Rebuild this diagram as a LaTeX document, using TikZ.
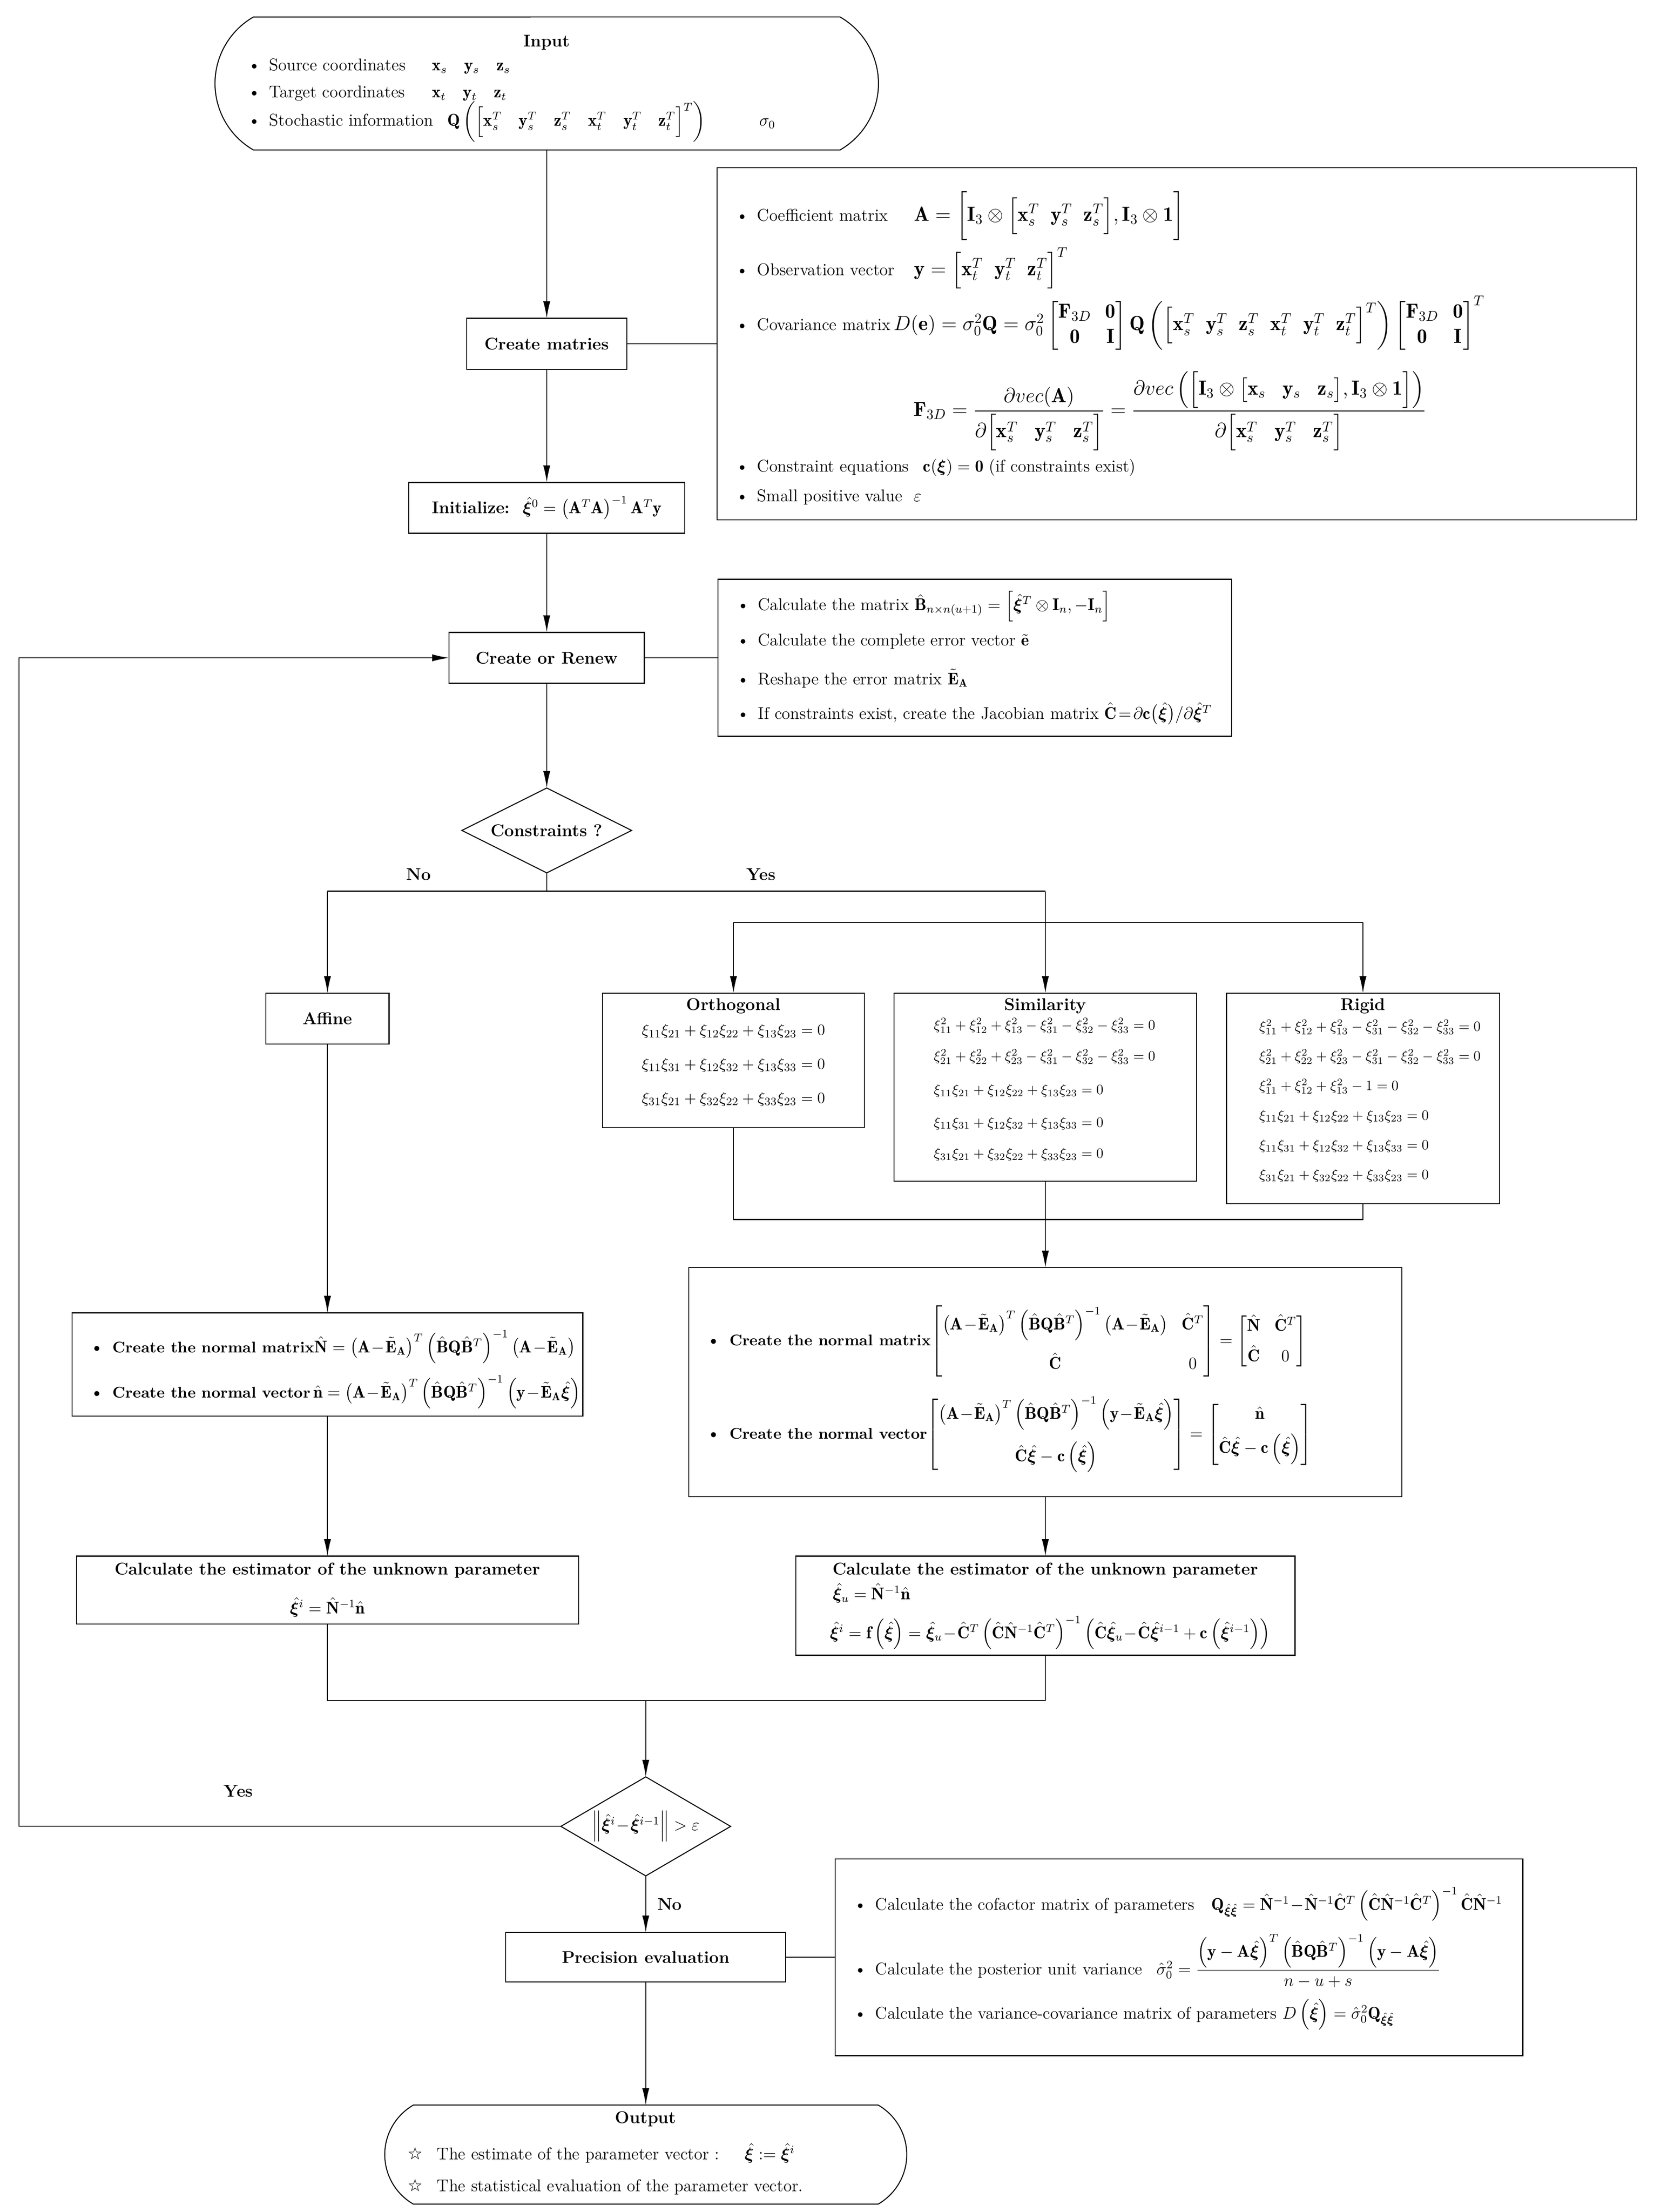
\documentclass[tikz,border=0pt,12pt]{standalone}
\usepackage{amsmath}
\usepackage{bm}
\usepackage{fontspec}
\newfontfamily\dejavustar{DejaVu Sans}
\usetikzlibrary{positioning}
\usetikzlibrary{shapes.geometric}
\usetikzlibrary{shapes.misc}
\usetikzlibrary{arrows.meta}
\newcommand{\itembul}{\textbullet\hspace{6pt}}
\newcommand{\hxi}{\hat{\bm{\xi}}}
\newcommand{\tEA}{\tilde{\mathbf{E}}_{\mathbf{A}}}
\newcommand{\BQBinv}{\left(\hat{\mathbf{B}}\mathbf{Q}\hat{\mathbf{B}}^T\right)^{-1}}
\tikzset{box/.style = {draw, line width=0.7pt, inner sep=2pt, outer sep=0pt, align=center, text centered, font=\bfseries}}
\tikzset{panel/.style = {draw, line width=0.7pt, inner sep=0pt, outer sep=0pt}}
\tikzset{entry/.style = {anchor=west, inner sep=0pt}}
\tikzset{eqn/.style = {inner sep=0pt}}
\tikzset{cond/.style = {draw, diamond, aspect=2, inner sep=0pt, outer sep=0pt, line width=0.7pt}}
\tikzset{terminal/.style = {draw, rounded rectangle, rounded rectangle arc length=120, outer sep=0pt, line width=0.7pt}}
\tikzset{heading/.style = {inner sep=0pt, font=\bfseries}}
\tikzset{arr/.style = {line width=0.7pt, -{Latex[length=12pt,width=5pt]}}}
\tikzset{link/.style = {line width=0.7pt}}

\begin{document}
\begin{tikzpicture}[node distance = 6 mm]
\useasboundingbox (0,0) rectangle (1169pt,-1563.6pt);

%% main column
\node[terminal, minimum width=477pt, minimum height=94pt] (input) at (386.5pt,-59pt) {};
\node[box, below=119pt of input, minimum width=113pt, minimum height=36pt] (creatm) {Create matries};
\node[box, below=80pt of creatm, minimum width=195pt, minimum height=36pt] (init) {Initialize:\ \ $\hat{\bm{\xi}}^0=\left(\mathbf{A}^T\mathbf{A}\right)^{-1}\mathbf{A}^T\mathbf{y}$};
\node[box, below=70pt of init, minimum width=138pt, minimum height=36pt] (renew) {Create or Renew};
\node[cond, below=74pt of renew, minimum width=120pt, minimum height=60pt, font=\bfseries] (cons) {Constraints ?};

%% input text
\node[heading] (intitle) at ([yshift=-18pt]input.north) {Input};
\node[entry] (in1) at ([xshift=-211.5pt,yshift=-35pt]input.north) {\itembul\makebox[115pt][l]{Source coordinates}$\mathbf{x}_s\quad\mathbf{y}_s\quad\mathbf{z}_s$};
\node[entry] (in2) at ([xshift=-211.5pt,yshift=-54pt]input.north) {\itembul\makebox[115pt][l]{Target coordinates}$\mathbf{x}_t\quad\mathbf{y}_t\quad\mathbf{z}_t$};
\node[entry] (in3) at ([xshift=-211.5pt,yshift=-74pt]input.north) {\itembul Stochastic information\hspace{10pt}$\mathbf{Q}\left(\Big[\mathbf{x}_s^T\quad\mathbf{y}_s^T\quad\mathbf{z}_s^T\quad\mathbf{x}_t^T\quad\mathbf{y}_t^T\quad\mathbf{z}_t^T\Big]^T\right)\qquad\quad\sigma_0$};

%% model box
\node[panel, right=64pt of creatm, minimum width=650pt, minimum height=249pt] (coefbox) {};
\node[entry] (coef1) at ([xshift=13pt,yshift=-34pt]coefbox.north west) {\itembul\makebox[111pt][l]{Coefficient matrix}\large$\mathbf{A}=\bigg[\mathbf{I}_3\otimes\Big[\mathbf{x}_s^T\;\;\mathbf{y}_s^T\;\;\mathbf{z}_s^T\Big],\mathbf{I}_3\otimes\mathbf{1}\bigg]$};
\node[entry] (coef2) at ([xshift=13pt,yshift=-71pt]coefbox.north west) {\itembul\makebox[111pt][l]{Observation vector}\large$\mathbf{y}=\Big[\mathbf{x}_t^T\;\;\mathbf{y}_t^T\;\;\mathbf{z}_t^T\Big]^T$};
\node[entry] (coef3) at ([xshift=13pt,yshift=-110pt]coefbox.north west) {\itembul Covariance matrix\,\large$D(\mathbf{e})=\sigma_0^2\mathbf{Q}=\sigma_0^2\begin{bmatrix}\mathbf{F}_{3D}&\mathbf{0}\\\mathbf{0}&\mathbf{I}\end{bmatrix}\mathbf{Q}\left(\Big[\mathbf{x}_s^T\;\;\mathbf{y}_s^T\;\;\mathbf{z}_s^T\;\;\mathbf{x}_t^T\;\;\mathbf{y}_t^T\;\;\mathbf{z}_t^T\Big]^T\right)\begin{bmatrix}\mathbf{F}_{3D}&\mathbf{0}\\\mathbf{0}&\mathbf{I}\end{bmatrix}^T$};
\node[eqn] (coef4) at ([xshift=320pt,yshift=-172pt]coefbox.north west) {\large$\mathbf{F}_{3D}=\dfrac{\partial vec(\mathbf{A})}{\partial\Big[\mathbf{x}_s^T\;\;\;\mathbf{y}_s^T\;\;\;\mathbf{z}_s^T\Big]}=\dfrac{\partial vec\left(\Big[\mathbf{I}_3\otimes\big[\mathbf{x}_s\;\;\;\mathbf{y}_s\;\;\;\mathbf{z}_s\big],\mathbf{I}_3\otimes\mathbf{1}\Big]\right)}{\partial\Big[\mathbf{x}_s^T\;\;\;\mathbf{y}_s^T\;\;\;\mathbf{z}_s^T\Big]}$};
\node[entry] (coef5) at ([xshift=13pt,yshift=-212pt]coefbox.north west) {\itembul Constraint equations\hspace{10pt}$\mathbf{c}(\bm{\xi})=\mathbf{0}$\ (if constraints exist)};
\node[entry] (coef6) at ([xshift=13pt,yshift=-233pt]coefbox.north west) {\itembul Small positive value\hspace{8pt}$\varepsilon$};

%% renew box
\node[panel, right=52pt of renew, minimum width=363pt, minimum height=111pt] (errbox) {};
\node[entry] (err1) at ([xshift=13pt,yshift=-19pt]errbox.north west) {\itembul Calculate the matrix $\hat{\mathbf{B}}_{n\times n(u+1)}=\left[\hat{\bm{\xi}}^T\otimes\mathbf{I}_n,-\mathbf{I}_n\right]$};
\node[entry] (err2) at ([xshift=13pt,yshift=-44pt]errbox.north west) {\itembul Calculate the complete error vector $\tilde{\mathbf{e}}$};
\node[entry] (err3) at ([xshift=13pt,yshift=-70pt]errbox.north west) {\itembul Reshape the error matrix $\tEA$};
\node[entry] (err4) at ([xshift=13pt,yshift=-95pt]errbox.north west) {\itembul If constraints exist, create the Jacobian matrix $\hat{\mathbf{C}}\!=\!\partial\mathbf{c}\big(\hxi\big)/\partial\hxi^T$};

%% branches
\coordinate[below=13pt of cons] (split);
\coordinate[left=155pt of split] (nosplit);
\coordinate[right=352.5pt of split] (yessplit);
\coordinate[below=22pt of yessplit] (yesjoin);
\node[heading] (nolbl) at ([xshift=-90.5pt,yshift=12pt]split) {No};
\node[heading] (yeslbl) at ([xshift=151.5pt,yshift=12pt]split) {Yes};

\node[box, below=72pt of nosplit, minimum width=87pt, minimum height=36pt] (affine) {Affine};
\node[panel, below=72pt of yessplit, minimum width=214pt, minimum height=133pt] (sim) {};
\node[panel, left=21pt of sim.north west, anchor=north east, minimum width=185pt, minimum height=95pt] (ortho) {};
\node[panel, right=21pt of sim.north east, anchor=north west, minimum width=193pt, minimum height=149pt] (rigid) {};

\node[heading] (orthot) at ([yshift=-9pt]ortho.north) {Orthogonal};
\node[eqn, font=\small] (ortho1) at ([yshift=-27pt]ortho.north) {$\xi_{11}\xi_{21}+\xi_{12}\xi_{22}+\xi_{13}\xi_{23}=0$};
\node[eqn, font=\small] (ortho2) at ([yshift=-51pt]ortho.north) {$\xi_{11}\xi_{31}+\xi_{12}\xi_{32}+\xi_{13}\xi_{33}=0$};
\node[eqn, font=\small] (ortho3) at ([yshift=-75pt]ortho.north) {$\xi_{31}\xi_{21}+\xi_{32}\xi_{22}+\xi_{33}\xi_{23}=0$};

\node[heading] (simt) at ([yshift=-9pt]sim.north) {Similarity};
\node[entry, font=\footnotesize] (sim1) at ([xshift=28pt,yshift=-23pt]sim.north west) {$\xi_{11}^2+\xi_{12}^2+\xi_{13}^2-\xi_{31}^2-\xi_{32}^2-\xi_{33}^2=0$};
\node[entry, font=\footnotesize] (sim2) at ([xshift=28pt,yshift=-45pt]sim.north west) {$\xi_{21}^2+\xi_{22}^2+\xi_{23}^2-\xi_{31}^2-\xi_{32}^2-\xi_{33}^2=0$};
\node[entry, font=\footnotesize] (sim3) at ([xshift=28pt,yshift=-69pt]sim.north west) {$\xi_{11}\xi_{21}+\xi_{12}\xi_{22}+\xi_{13}\xi_{23}=0$};
\node[entry, font=\footnotesize] (sim4) at ([xshift=28pt,yshift=-92pt]sim.north west) {$\xi_{11}\xi_{31}+\xi_{12}\xi_{32}+\xi_{13}\xi_{33}=0$};
\node[entry, font=\footnotesize] (sim5) at ([xshift=28pt,yshift=-114pt]sim.north west) {$\xi_{31}\xi_{21}+\xi_{32}\xi_{22}+\xi_{33}\xi_{23}=0$};

\node[heading] (rigidt) at ([yshift=-9pt]rigid.north) {Rigid};
\node[entry, font=\footnotesize] (rigid1) at ([xshift=23pt,yshift=-24pt]rigid.north west) {$\xi_{11}^2+\xi_{12}^2+\xi_{13}^2-\xi_{31}^2-\xi_{32}^2-\xi_{33}^2=0$};
\node[entry, font=\footnotesize] (rigid2) at ([xshift=23pt,yshift=-45pt]rigid.north west) {$\xi_{21}^2+\xi_{22}^2+\xi_{23}^2-\xi_{31}^2-\xi_{32}^2-\xi_{33}^2=0$};
\node[entry, font=\footnotesize] (rigid3) at ([xshift=23pt,yshift=-66pt]rigid.north west) {$\xi_{11}^2+\xi_{12}^2+\xi_{13}^2-1=0$};
\node[entry, font=\footnotesize] (rigid4) at ([xshift=23pt,yshift=-87pt]rigid.north west) {$\xi_{11}\xi_{21}+\xi_{12}\xi_{22}+\xi_{13}\xi_{23}=0$};
\node[entry, font=\footnotesize] (rigid5) at ([xshift=23pt,yshift=-108pt]rigid.north west) {$\xi_{11}\xi_{31}+\xi_{12}\xi_{32}+\xi_{13}\xi_{33}=0$};
\node[entry, font=\footnotesize] (rigid6) at ([xshift=23pt,yshift=-129pt]rigid.north west) {$\xi_{31}\xi_{21}+\xi_{32}\xi_{22}+\xi_{33}\xi_{23}=0$};

\coordinate[below=27pt of sim] (collect);

%% normal equations
\node[panel, below=190pt of affine, minimum width=361pt, minimum height=73pt] (anorm) {};
\node[entry] (an1) at ([xshift=12pt,yshift=-24pt]anorm.north west) {\bfseries\itembul{\small Create the normal matrix}$\hat{\mathbf{N}}=\left(\mathbf{A}\!-\!\tEA\right)^T\BQBinv\left(\mathbf{A}\!-\!\tEA\right)$};
\node[entry] (an2) at ([xshift=12pt,yshift=-56pt]anorm.north west) {\bfseries\itembul{\small Create the normal vector}\,$\hat{\mathbf{n}}=\left(\mathbf{A}\!-\!\tEA\right)^T\BQBinv\left(\mathbf{y}\!-\!\tEA\hxi\right)$};

\node[panel, below=61pt of sim, minimum width=504pt, minimum height=162pt] (cnorm) {};
\node[entry] (cn1) at ([xshift=12pt,yshift=-52pt]cnorm.north west) {\bfseries\itembul{\small Create the normal matrix}$\begin{bmatrix}\left(\mathbf{A}\!-\!\tEA\right)^T\BQBinv\left(\mathbf{A}\!-\!\tEA\right) & \hat{\mathbf{C}}^T\\[12pt] \hat{\mathbf{C}} & 0\end{bmatrix}=\begin{bmatrix}\hat{\mathbf{N}} & \hat{\mathbf{C}}^T\\[6pt] \hat{\mathbf{C}} & 0\end{bmatrix}$};
\node[entry] (cn2) at ([xshift=12pt,yshift=-118pt]cnorm.north west) {\bfseries\itembul{\small Create the normal vector}$\begin{bmatrix}\left(\mathbf{A}\!-\!\tEA\right)^T\BQBinv\left(\mathbf{y}\!-\!\tEA\hxi\right)\\[12pt] \hat{\mathbf{C}}\hxi-\mathbf{c}\left(\hxi\right)\end{bmatrix}=\begin{bmatrix}\hat{\mathbf{n}}\\[6pt] \hat{\mathbf{C}}\hxi-\mathbf{c}\left(\hxi\right)\end{bmatrix}$};

%% estimators
\node[panel, below=99pt of anorm, minimum width=355pt, minimum height=48pt] (aest) {};
\node[heading] (aest1) at ([yshift=-10pt]aest.north) {Calculate the estimator of the unknown parameter};
\node[eqn] (aest2) at ([yshift=-36pt]aest.north) {$\hxi^i=\hat{\mathbf{N}}^{-1}\hat{\mathbf{n}}$};

\node[panel, below=42pt of cnorm, minimum width=353pt, minimum height=70pt] (cest) {};
\node[heading] (cest1) at ([yshift=-10pt]cest.north) {Calculate the estimator of the unknown parameter};
\node[entry] (cest2) at ([xshift=26pt,yshift=-26pt]cest.north west) {$\hxi_u=\hat{\mathbf{N}}^{-1}\hat{\mathbf{n}}$};
\node[entry] (cest3) at ([xshift=24pt,yshift=-54pt]cest.north west) {$\hxi^i=\mathbf{f}\left(\hxi\right)=\hxi_u\!-\!\hat{\mathbf{C}}^T\left(\hat{\mathbf{C}}\hat{\mathbf{N}}^{-1}\hat{\mathbf{C}}^T\right)^{-1}\left(\hat{\mathbf{C}}\hxi_u\!-\!\hat{\mathbf{C}}\hxi^{i-1}+\mathbf{c}\left(\hxi^{i-1}\right)\right)$};

\coordinate[below right=54pt and 225pt of aest.south] (merge);

%% iteration test and precision
\node[cond, below=54pt of merge, minimum width=120pt, minimum height=70pt] (conv) {};
\node[eqn] (convtxt) at (conv) {$\left\|\hxi^i\!-\!\hxi^{i-1}\right\|>\varepsilon$};
\node[heading] (yeslbl2) at ([xshift=-228pt,yshift=25pt]conv.west) {Yes};
\node[heading, anchor=west] (nolbl2) at ([xshift=8pt,yshift=-20pt]conv.south) {No};

\node[box, below=40pt of conv, minimum width=198pt, minimum height=35pt] (prec) {Precision evaluation};
\node[panel, right=35pt of prec, minimum width=486pt, minimum height=139pt] (precbox) {};
\node[entry] (prec1) at ([xshift=13pt,yshift=-32pt]precbox.north west) {\itembul Calculate the cofactor matrix of parameters\hspace{12pt}$\mathbf{Q}_{\hxi\hxi}=\hat{\mathbf{N}}^{-1}\!-\!\hat{\mathbf{N}}^{-1}\hat{\mathbf{C}}^T\left(\hat{\mathbf{C}}\hat{\mathbf{N}}^{-1}\hat{\mathbf{C}}^T\right)^{-1}\hat{\mathbf{C}}\hat{\mathbf{N}}^{-1}$};
\node[entry] (prec2) at ([xshift=13pt,yshift=-72pt]precbox.north west) {\itembul Calculate the posterior unit variance\hspace{10pt}$\hat{\sigma}_0^2=\dfrac{\left(\mathbf{y}-\mathbf{A}\hxi\right)^T\BQBinv\left(\mathbf{y}-\mathbf{A}\hxi\right)}{n-u+s}$};
\node[entry] (prec3) at ([xshift=13pt,yshift=-110pt]precbox.north west) {\itembul Calculate the variance-covariance matrix of parameters $D\left(\hxi\right)=\hat{\sigma}_0^2\mathbf{Q}_{\hxi\hxi}$};

%% output
\node[terminal, below=87pt of prec, minimum width=377pt, minimum height=70pt] (output) {};
\node[heading] (outtitle) at ([yshift=-10pt]output.north) {Output};
\node[entry] (out1) at ([xshift=-168.5pt,yshift=-34pt]output.north) {{\dejavustar ☆}\hspace{10pt}The estimate of the parameter vector :\hspace{18pt}$\hxi:=\hxi^i$};
\node[entry] (out2) at ([xshift=-168.5pt,yshift=-58pt]output.north) {{\dejavustar ☆}\hspace{10pt}The statistical evaluation of the parameter vector.};

%% connectors
\draw[arr]  (input) -- (creatm);
\draw[link] (creatm) -- (coefbox);
\draw[arr]  (creatm) -- (init);
\draw[arr]  (init) -- (renew);
\draw[link] (renew) -- (errbox);
\draw[arr]  (renew) -- (cons);
\draw[link] (cons) -- (split);
\draw[link] (nosplit) -- (yessplit);
\draw[arr]  (nosplit) -- (affine);
\draw[arr]  (yessplit) -- (sim);
\draw[link] (ortho.north |- yesjoin) -- (rigid.north |- yesjoin);
\draw[arr]  (ortho.north |- yesjoin) -- (ortho);
\draw[arr]  (rigid.north |- yesjoin) -- (rigid);
\draw[link] (ortho) -- (ortho.south |- collect) -- (rigid.south |- collect) -- (rigid);
\draw[arr]  (sim) -- (cnorm);
\draw[arr]  (affine) -- (anorm);
\draw[arr]  (anorm) -- (aest);
\draw[arr]  (cnorm) -- (cest);
\draw[link] (aest) -- (aest.south |- merge) -- (cest.south |- merge) -- (cest);
\draw[arr]  (merge) -- (conv);
\draw[arr]  (conv.west) -- ++(-383pt,0) |- (renew.west);
\draw[arr]  (conv) -- (prec);
\draw[link] (prec) -- (precbox);
\draw[arr]  (prec) -- (output);

\end{tikzpicture}
\end{document}
